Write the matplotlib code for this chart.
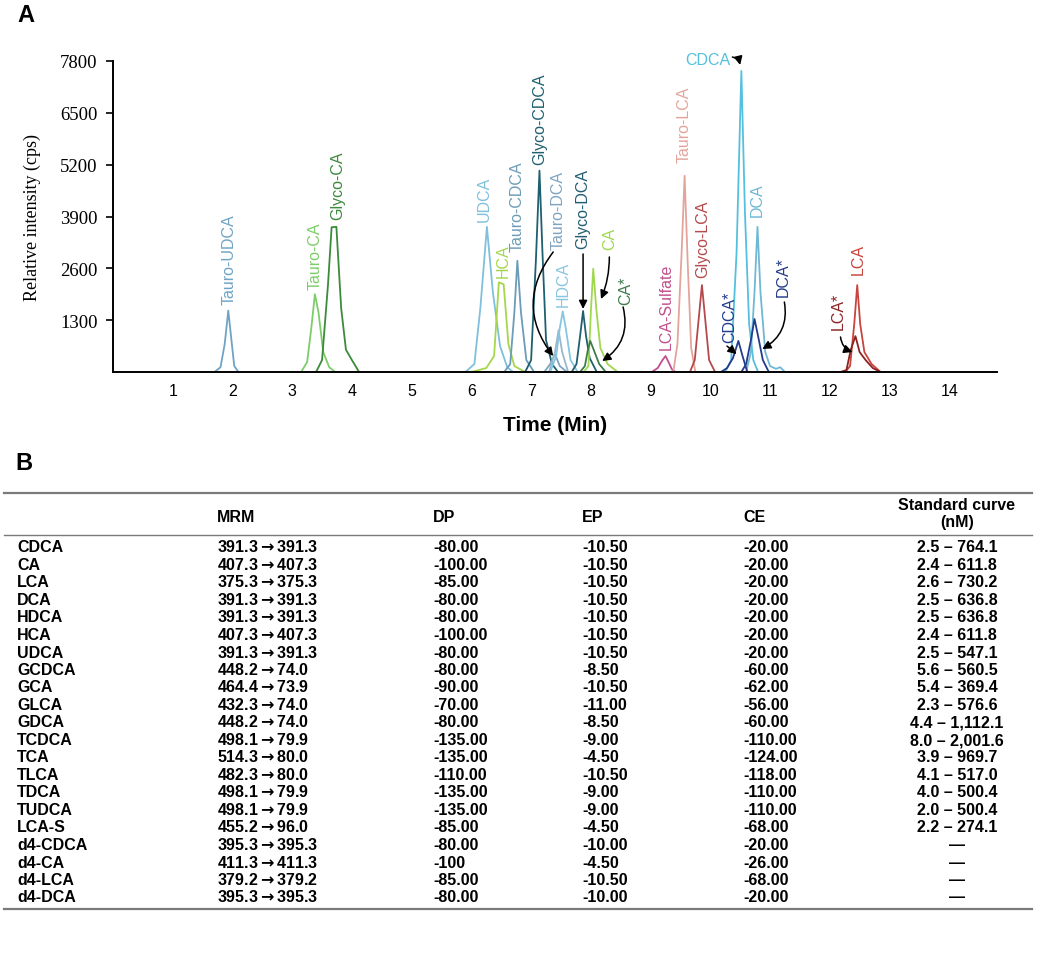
import matplotlib
matplotlib.use("Agg")
import matplotlib.pyplot as plt
from matplotlib.lines import Line2D

# ---------------- Panel A data: chromatogram traces (time in min, intensity in cps) ----------------
t_tudca = [1.70, 1.80, 1.87, 1.93, 1.99, 2.03, 2.10]
i_tudca = [0, 120, 700, 1540, 700, 150, 0]
t_tca = [3.15, 3.25, 3.32, 3.38, 3.44, 3.52, 3.62, 3.72]
i_tca = [0, 250, 1100, 1950, 1500, 500, 120, 0]
t_gca = [3.40, 3.50, 3.60, 3.66, 3.74, 3.82, 3.90, 4.00, 4.12]
i_gca = [0, 300, 2200, 3630, 3640, 1600, 560, 300, 0]
t_udca = [5.90, 6.05, 6.15, 6.26, 6.36, 6.48, 6.60, 6.70]
i_udca = [0, 200, 1600, 3640, 2000, 650, 120, 0]
t_hca = [6.00, 6.25, 6.38, 6.46, 6.54, 6.62, 6.72, 6.90]
i_hca = [0, 100, 400, 2250, 2200, 700, 150, 0]
t_tcdca = [6.55, 6.65, 6.72, 6.77, 6.83, 6.92, 7.05]
i_tcdca = [0, 200, 1500, 2790, 1500, 300, 0]
t_gcdca = [6.90, 7.00, 7.08, 7.14, 7.19, 7.25, 7.35, 7.45]
i_gcdca = [0, 300, 2800, 5050, 3000, 800, 200, 0]
t_tdca = [7.22, 7.32, 7.40, 7.48, 7.60]
i_tdca = [0, 200, 450, 150, 0]
t_hdca = [7.32, 7.42, 7.48, 7.53, 7.58, 7.66, 7.78]
i_hdca = [0, 400, 1100, 1520, 1100, 300, 0]
t_hdca_b = [7.30, 7.40, 7.46, 7.52, 7.62]
i_hdca_b = [0, 500, 1050, 500, 0]
t_gdca = [7.68, 7.76, 7.82, 7.87, 7.92, 7.98, 8.10]
i_gdca = [0, 200, 900, 1530, 900, 350, 0]
t_ca = [7.88, 7.96, 8.00, 8.04, 8.09, 8.16, 8.28, 8.45]
i_ca = [0, 150, 1500, 2590, 1600, 600, 200, 0]
t_ca_is = [7.82, 7.90, 7.95, 7.99, 8.05, 8.14, 8.25]
i_ca_is = [0, 150, 550, 780, 550, 200, 0]
t_lcas = [9.02, 9.12, 9.20, 9.25, 9.30, 9.36, 9.42]
i_lcas = [0, 100, 300, 400, 250, 60, 0]
t_tlca = [9.38, 9.45, 9.52, 9.57, 9.62, 9.68, 9.75]
i_tlca = [0, 700, 3000, 4920, 2800, 600, 0]
t_glca = [9.66, 9.74, 9.81, 9.86, 9.91, 9.98, 10.08]
i_glca = [0, 300, 1400, 2180, 1400, 300, 0]
t_cdca = [10.25, 10.35, 10.44, 10.52, 10.58, 10.65, 10.72, 10.80]
i_cdca = [0, 300, 3000, 7550, 4000, 1200, 300, 0]
t_dca = [10.60, 10.68, 10.74, 10.79, 10.84, 10.92, 11.00, 11.10, 11.17, 11.25]
i_dca = [0, 500, 2000, 3640, 2000, 500, 150, 80, 120, 0]
t_cdca_is = [10.18, 10.28, 10.38, 10.47, 10.54, 10.62]
i_cdca_is = [0, 100, 350, 780, 400, 0]
t_dca_is = [10.52, 10.60, 10.68, 10.74, 10.80, 10.88, 10.98]
i_dca_is = [0, 200, 800, 1330, 900, 300, 0]
t_lca_is = [12.18, 12.28, 12.35, 12.43, 12.50, 12.60, 12.72, 12.85]
i_lca_is = [0, 50, 550, 900, 500, 300, 100, 0]
t_lca = [12.26, 12.34, 12.41, 12.46, 12.51, 12.58, 12.70, 12.85]
i_lca = [0, 150, 1200, 2180, 1200, 500, 200, 0]

y_ticks = [1300, 2600, 3900, 5200, 6500, 7800]
x_ticks = list(range(1, 15))

# ---------------- Panel B data: table ----------------
col_headers = ["", "MRM", "DP", "EP", "CE", "Standard curve\n(nM)"]
compounds = ["CDCA", "CA", "LCA", "DCA", "HDCA", "HCA", "UDCA", "GCDCA", "GCA", "GLCA",
             "GDCA", "TCDCA", "TCA", "TLCA", "TDCA", "TUDCA", "LCA-S", "d4-CDCA", "d4-CA",
             "d4-LCA", "d4-DCA"]
mrm = ["391.3\u2192391.3", "407.3\u2192407.3", "375.3\u2192375.3", "391.3\u2192391.3",
       "391.3\u2192391.3", "407.3\u2192407.3", "391.3\u2192391.3", "448.2\u219274.0",
       "464.4\u219273.9", "432.3\u219274.0", "448.2\u219274.0", "498.1\u219279.9",
       "514.3\u219280.0", "482.3\u219280.0", "498.1\u219279.9", "498.1\u219279.9",
       "455.2\u219296.0", "395.3\u2192395.3", "411.3\u2192411.3", "379.2\u2192379.2",
       "395.3\u2192395.3"]
dp = ["-80.00", "-100.00", "-85.00", "-80.00", "-80.00", "-100.00", "-80.00", "-80.00",
      "-90.00", "-70.00", "-80.00", "-135.00", "-135.00", "-110.00", "-135.00", "-135.00",
      "-85.00", "-80.00", "-100", "-85.00", "-80.00"]
ep = ["-10.50", "-10.50", "-10.50", "-10.50", "-10.50", "-10.50", "-10.50", "-8.50",
      "-10.50", "-11.00", "-8.50", "-9.00", "-4.50", "-10.50", "-9.00", "-9.00", "-4.50",
      "-10.00", "-4.50", "-10.50", "-10.00"]
ce = ["-20.00", "-20.00", "-20.00", "-20.00", "-20.00", "-20.00", "-20.00", "-60.00",
      "-62.00", "-56.00", "-60.00", "-110.00", "-124.00", "-118.00", "-110.00", "-110.00",
      "-68.00", "-20.00", "-26.00", "-68.00", "-20.00"]
std_curve = ["2.5 \u2013 764.1", "2.4 \u2013 611.8", "2.6 \u2013 730.2", "2.5 \u2013 636.8",
             "2.5 \u2013 636.8", "2.4 \u2013 611.8", "2.5 \u2013 547.1", "5.6 \u2013 560.5",
             "5.4 \u2013 369.4", "2.3 \u2013 576.6", "4.4 \u2013 1,112.1", "8.0 \u2013 2,001.6",
             "3.9 \u2013 969.7", "4.1 \u2013 517.0", "4.0 \u2013 500.4", "2.0 \u2013 500.4",
             "2.2 \u2013 274.1", "\u2014", "\u2014", "\u2014", "\u2014"]

# ---------------- Figure ----------------
W, H = 1050, 970
plt.rcParams["mathtext.fontset"] = "dejavusans"
plt.rcParams["mathtext.default"] = "bf"
fig = plt.figure(figsize=(W / 100, H / 100), dpi=100)
SANS = ["Liberation Sans", "DejaVu Sans"]
SERIF = ["Liberation Serif", "DejaVu Serif"]

ax = fig.add_axes([113 / W, 1 - 373 / H, (997 - 113) / W, (373 - 62) / H])

traces = [
    (t_tudca, i_tudca, "#6fa3c4"), (t_tca, i_tca, "#7ccd6a"), (t_gca, i_gca, "#3c8a3c"),
    (t_udca, i_udca, "#80c0dc"), (t_hca, i_hca, "#a5d64c"), (t_tcdca, i_tcdca, "#6c9cb8"),
    (t_gcdca, i_gcdca, "#1e6070"), (t_tdca, i_tdca, "#7fa4c0"), (t_hdca_b, i_hdca_b, "#9ab8cc"),
    (t_hdca, i_hdca, "#86c6e0"), (t_gdca, i_gdca, "#215e72"), (t_ca, i_ca, "#9fd84e"),
    (t_ca_is, i_ca_is, "#3e7c4e"), (t_lcas, i_lcas, "#c2508c"), (t_tlca, i_tlca, "#e3a49c"),
    (t_glca, i_glca, "#b5494b"), (t_dca, i_dca, "#6fb8d6"), (t_cdca, i_cdca, "#55c0de"),
    (t_cdca_is, i_cdca_is, "#253c8c"), (t_dca_is, i_dca_is, "#253c8c"),
    (t_lca, i_lca, "#c8443c"), (t_lca_is, i_lca_is, "#8c2323"),
]
for t, i, c in traces:
    ax.plot(t, i, color=c, lw=1.3, solid_joinstyle="round")

ax.set_xlim(0, 14.8)
ax.set_ylim(0, 7800)
ax.set_xticks(x_ticks)
ax.set_xticklabels([str(v) for v in x_ticks], family=SANS, fontsize=11.5)
ax.set_yticks(y_ticks)
ax.set_yticklabels([str(v) for v in y_ticks], family=SERIF, fontsize=13.5)
ax.tick_params(axis="x", length=0, pad=8)
ax.tick_params(axis="y", length=5, width=1.2, pad=6)
for s in ["top", "right"]:
    ax.spines[s].set_visible(False)
ax.spines["left"].set_linewidth(1.4)
ax.spines["bottom"].set_linewidth(1.4)
ax.set_ylabel("Relative intensity (cps)", family=SERIF, fontsize=13, labelpad=14)
ax.set_xlabel("Time (Min)", family=SANS, fontsize=15, fontweight="bold", labelpad=12)

# peak labels (vertical)
labels = [
    ("Tauro-UDCA", 1.94, 1705, "#6fa3c4"), ("Tauro-CA", 3.38, 2080, "#7ccd6a"),
    ("Glyco-CA", 3.77, 3837, "#3c8a3c"), ("UDCA", 6.21, 3787, "#80c0dc"),
    ("HCA", 6.53, 2383, "#a5d64c"), ("Tauro-CDCA", 6.77, 3035, "#6c9cb8"),
    ("Glyco-CDCA", 7.15, 5217, "#1e6070"), ("Tauro-DCA", 7.45, 3085, "#7fa4c0"),
    ("HDCA", 7.54, 1655, "#86c6e0"), ("Glyco-DCA", 7.87, 3110, "#215e72"),
    ("CA", 8.31, 3085, "#9fd84e"), ("CA*", 8.58, 1705, "#3e7c4e"),
    ("LCA-Sulfate", 9.26, 577, "#c2508c"), ("Tauro-LCA", 9.56, 5267, "#e3a49c"),
    ("Glyco-LCA", 9.88, 2383, "#b5494b"), ("DCA", 10.79, 3912, "#6fb8d6"),
    ("CDCA*", 10.32, 752, "#253c8c"), ("DCA*", 11.22, 1906, "#253c8c"),
    ("LCA*", 12.14, 1078, "#8c2323"), ("LCA", 12.48, 2458, "#c8443c"),
]
for txt, x, y, c in labels:
    ax.text(x, y, txt, rotation=90, ha="center", va="bottom", color=c,
            family=SANS, fontsize=11.5, clip_on=False)
ax.text(10.34, 7850, "CDCA", ha="right", va="center", color="#55c0de",
        family=SANS, fontsize=11.5, clip_on=False)

# arrows
arrows = [
    ((7.37, 3010), (7.37, 400), 0.38),
    ((7.87, 2960), (7.87, 1580), 0.0),
    ((8.31, 2885), (8.17, 1830), -0.1),
    ((8.54, 1630), (8.19, 276), -0.35),
    ((10.28, 650), (10.44, 450), 0.0),
    ((11.24, 1755), (10.87, 577), -0.35),
    ((12.18, 878), (12.38, 500), 0.3),
    ((10.37, 7900), (10.50, 7700), -0.3),
]
for (x0, y0), (x1, y1), rad in arrows:
    ax.annotate("", xy=(x1, y1), xytext=(x0, y0),
                arrowprops=dict(arrowstyle="-|>,head_length=0.5,head_width=0.25",
                                color="black", lw=1.1, shrinkA=0, shrinkB=0,
                                connectionstyle=f"arc3,rad={rad}"),
                annotation_clip=False)

# panel letters
fig.text(17 / W, 1 - 15 / H, "A", family=SANS, fontsize=17, fontweight="bold", va="center")
fig.text(15 / W, 1 - 463 / H, "B", family=SANS, fontsize=17, fontweight="bold", va="center")

# ---------------- Table ----------------
def fy(py):
    return 1 - py / H

for py, lw in [(494, 1.6), (536, 1.0), (910, 1.6)]:
    fig.add_artist(Line2D([4 / W, 1032 / W], [fy(py), fy(py)], color="#7a7a7a", lw=lw))

TFS = 11.5
BASE = 5.5  # px from row centre to text baseline
col_x = [17, 217, 433, 582, 743]
for cx, hdr in zip(col_x[1:], col_headers[1:5]):
    fig.text(cx / W, fy(517 + BASE), hdr, family=SANS, fontsize=TFS, fontweight="bold",
             va="baseline")
for j, line in enumerate(col_headers[5].split("\n")):
    fig.text(957 / W, fy(505 + 17 * j + BASE), line, family=SANS, fontsize=TFS,
             fontweight="bold", va="baseline", ha="center")

for k in range(len(compounds)):
    py = 547 + k * 17.5 + BASE
    row = [compounds[k], mrm[k].replace("\u2192", "$\\rightarrow$"), dp[k], ep[k], ce[k]]
    for cx, val in zip(col_x, row):
        fig.text(cx / W, fy(py), val, family=SANS, fontsize=TFS, fontweight="bold",
                 va="baseline")
    fig.text(957 / W, fy(py), std_curve[k], family=SANS, fontsize=TFS, fontweight="bold",
             va="baseline", ha="center")

fig.savefig("out.png", dpi=100)
